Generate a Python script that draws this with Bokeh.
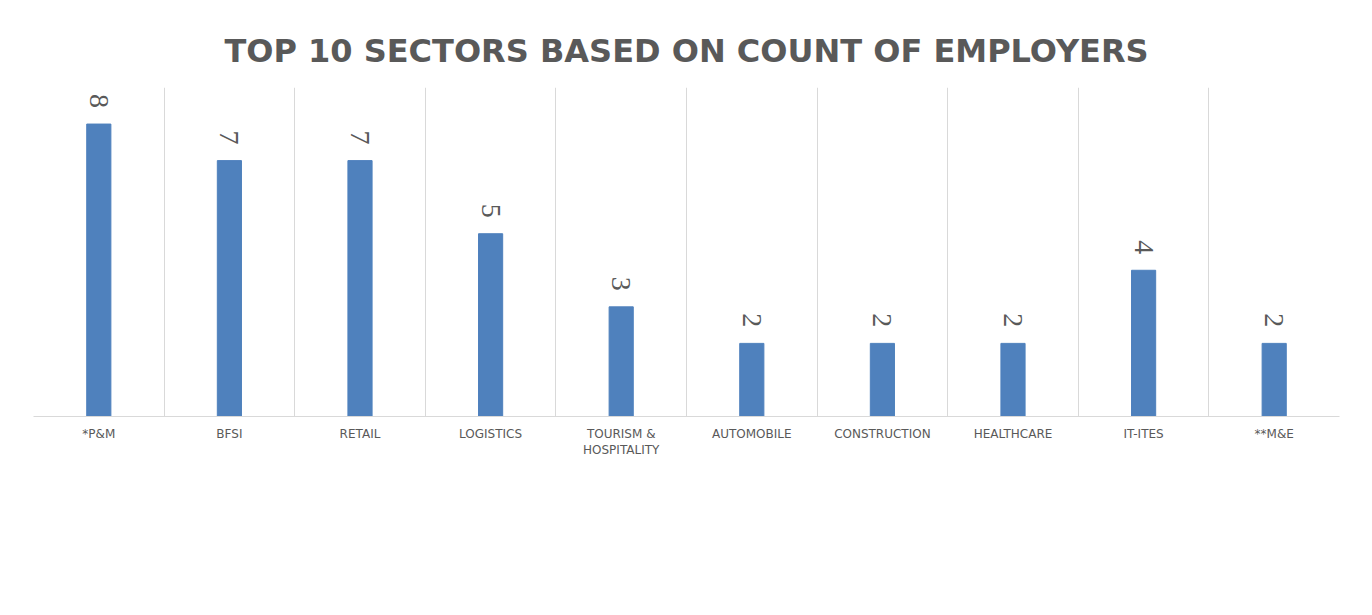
import math
from bokeh.plotting import figure
from bokeh.models import ColumnDataSource, FixedTicker, Range1d
from bokeh.core.properties import value
from bokeh.embed import file_html
from bokeh.resources import INLINE

categories = ["*P&M", "BFSI", "RETAIL", "LOGISTICS", "TOURISM &\nHOSPITALITY",
              "AUTOMOBILE", "CONSTRUCTION", "HEALTHCARE", "IT-ITES", "**M&E"]
counts = [8, 7, 7, 5, 3, 2, 2, 2, 4, 2]
title_text = "TOP 10 SECTORS BASED ON COUNT OF EMPLOYERS"

n = len(categories)
xs = [i + 0.5 for i in range(n)]
label_pad = 0.44
src = ColumnDataSource(dict(x=xs, top=counts, lbl=[str(c) for c in counts],
                            ly=[c + label_pad for c in counts]))

p = figure(width=1356, height=598, output_backend="svg", toolbar_location=None,
           x_range=Range1d(0, n), y_range=Range1d(0, 9),
           min_border_left=33, min_border_right=17, min_border_top=87, min_border_bottom=182,
           title=title_text)
p.title.align = "center"
p.title.text_font = "DejaVu Sans"
p.title.text_font_style = "bold"
p.title.text_font_size = "32px"
p.title.text_color = "#595959"
p.title.standoff = 35

p.vbar(x="x", top="top", width=0.185, bottom=0, source=src, color="#4F81BD")
p.text(x="x", y="ly", text="lbl", source=src, angle=-math.pi / 2,
       text_align="right", text_baseline="middle",
       text_font=value("Liberation Sans Narrow"), text_font_size="28px", text_color="#595959")

p.yaxis.visible = False
p.ygrid.grid_line_color = None
p.xgrid.ticker = FixedTicker(ticks=list(range(n + 1)))
p.xgrid.grid_line_color = "#d9d9d9"
p.xgrid.grid_line_width = 1

ax = p.xaxis[0]
ax.ticker = FixedTicker(ticks=xs)
ax.major_label_overrides = {x: c for x, c in zip(xs, categories)}
ax.axis_line_color = "#d9d9d9"
ax.axis_line_width = 1
ax.major_tick_line_color = None
ax.minor_tick_line_color = None
ax.major_tick_out = 0
ax.major_tick_in = 0
ax.major_label_standoff = 10
ax.major_label_text_font = "DejaVu Sans"
ax.major_label_text_font_size = "12px"
ax.major_label_text_color = "#595959"

p.outline_line_color = None
p.background_fill_color = "white"
p.border_fill_color = "white"

open("out.html", "w").write(file_html(p, INLINE))
